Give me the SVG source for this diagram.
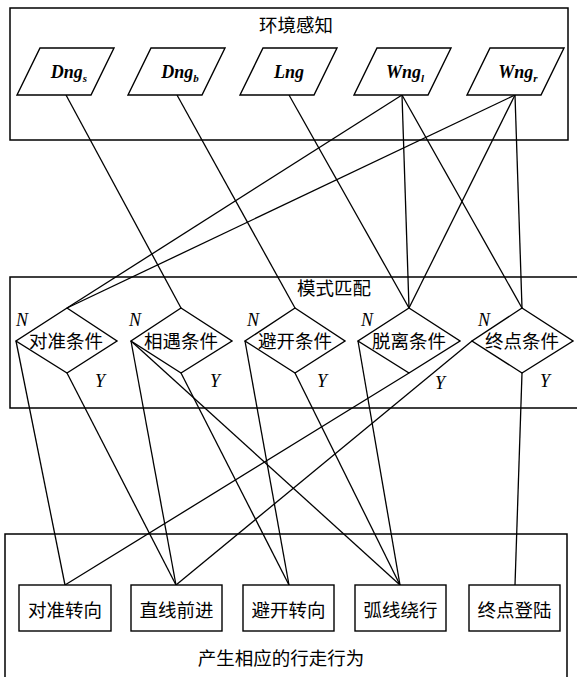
<svg xmlns="http://www.w3.org/2000/svg" width="577" height="677" viewBox="0 0 577 677">
<style>
.box{fill:none;stroke:#000;stroke-width:1.5}
.shape{fill:#fff;stroke:#000;stroke-width:1.4}
.cn{font-family:"Liberation Serif","Noto Sans CJK SC",serif;font-size:18.5px;fill:#000;text-anchor:middle}
.var{font-family:"Liberation Serif",serif;font-size:18px;font-weight:bold;font-style:italic;fill:#000;text-anchor:middle}
.sub{font-size:11px}
.ny{font-family:"Liberation Serif",serif;font-size:18px;font-style:italic;fill:#000;text-anchor:middle}
#connectors line{stroke:#000;stroke-width:1.3}
</style>
<rect width="577" height="677" fill="#fff"/>
<g id="env-box"><rect class="box" x="10" y="8" width="558" height="132"/><text class="cn" x="296" y="32">环境感知</text></g>
<g id="match-box"><path class="box" d="M580,277 H10 V408 H580"/><text class="cn" x="334" y="295">模式匹配</text></g>
<g id="action-box"><path class="box" d="M5,690 V534 H567 V690"/><text class="cn" x="281" y="665">产生相应的行走行为</text></g>
<g id="connectors">
<line x1="66" y1="95" x2="181" y2="308"/>
<line x1="177" y1="95" x2="295" y2="308"/>
<line x1="289" y1="95" x2="409" y2="308"/>
<line x1="402" y1="95" x2="67" y2="308"/>
<line x1="402" y1="95" x2="409" y2="308"/>
<line x1="402" y1="95" x2="522" y2="308"/>
<line x1="515" y1="95" x2="67" y2="308"/>
<line x1="515" y1="95" x2="409" y2="308"/>
<line x1="515" y1="95" x2="522" y2="308"/>
<line x1="16" y1="341" x2="65" y2="585"/>
<line x1="67" y1="373" x2="176" y2="585"/>
<line x1="131" y1="341" x2="176" y2="585"/>
<line x1="131" y1="341" x2="400" y2="585"/>
<line x1="181" y1="373" x2="289" y2="585"/>
<line x1="245" y1="341" x2="289" y2="585"/>
<line x1="295" y1="373" x2="400" y2="585"/>
<line x1="358" y1="341" x2="400" y2="585"/>
<line x1="409" y1="373" x2="65" y2="585"/>
<line x1="472" y1="341" x2="176" y2="585"/>
<line x1="522" y1="373" x2="515" y2="585"/>
</g>
<g id="dng-s"><polygon class="shape" points="40,48 114,48 91,95 17,95"/><text class="var" x="69" y="78">Dng<tspan class="sub" dy="4">s</tspan></text></g>
<g id="dng-b"><polygon class="shape" points="151,48 225,48 202,95 128,95"/><text class="var" x="180" y="78">Dng<tspan class="sub" dy="4">b</tspan></text></g>
<g id="lng"><polygon class="shape" points="263,48 337,48 314,95 240,95"/><text class="var" x="289" y="78">Lng</text></g>
<g id="wng-l"><polygon class="shape" points="377,48 451,48 428,95 354,95"/><text class="var" x="405" y="78">Wng<tspan class="sub" dy="4">l</tspan></text></g>
<g id="wng-r"><polygon class="shape" points="490,48 564,48 541,95 467,95"/><text class="var" x="518" y="78">Wng<tspan class="sub" dy="4">r</tspan></text></g>
<g id="d-align"><polygon class="shape" points="67,308 117,341 67,373 16,341"/><text class="cn" x="66" y="348">对准条件</text><text class="ny" x="22" y="326">N</text><text class="ny" x="100" y="387">Y</text></g>
<g id="d-meet"><polygon class="shape" points="181,308 232,341 181,373 131,341"/><text class="cn" x="181" y="348">相遇条件</text><text class="ny" x="135" y="326">N</text><text class="ny" x="215" y="387">Y</text></g>
<g id="d-avoid"><polygon class="shape" points="295,308 345,341 295,373 245,341"/><text class="cn" x="295" y="348">避开条件</text><text class="ny" x="253" y="326">N</text><text class="ny" x="322" y="387">Y</text></g>
<g id="d-leave"><polygon class="shape" points="409,308 460,341 409,373 358,341"/><text class="cn" x="409" y="348">脱离条件</text><text class="ny" x="367" y="326">N</text><text class="ny" x="440" y="389">Y</text></g>
<g id="d-end"><polygon class="shape" points="522,308 573,341 522,373 472,341"/><text class="cn" x="522" y="348">终点条件</text><text class="ny" x="484" y="326">N</text><text class="ny" x="545" y="387">Y</text></g>
<g id="r-align"><rect class="shape" x="19" y="585" width="92" height="46"/><text class="cn" x="65" y="617">对准转向</text></g>
<g id="r-straight"><rect class="shape" x="131" y="585" width="91" height="46"/><text class="cn" x="176.5" y="617">直线前进</text></g>
<g id="r-avoid"><rect class="shape" x="243" y="585" width="91" height="46"/><text class="cn" x="288.5" y="617">避开转向</text></g>
<g id="r-arc"><rect class="shape" x="355" y="585" width="91" height="46"/><text class="cn" x="400.5" y="617">弧线绕行</text></g>
<g id="r-land"><rect class="shape" x="469" y="585" width="91" height="46"/><text class="cn" x="514.5" y="617">终点登陆</text></g>
</svg>
